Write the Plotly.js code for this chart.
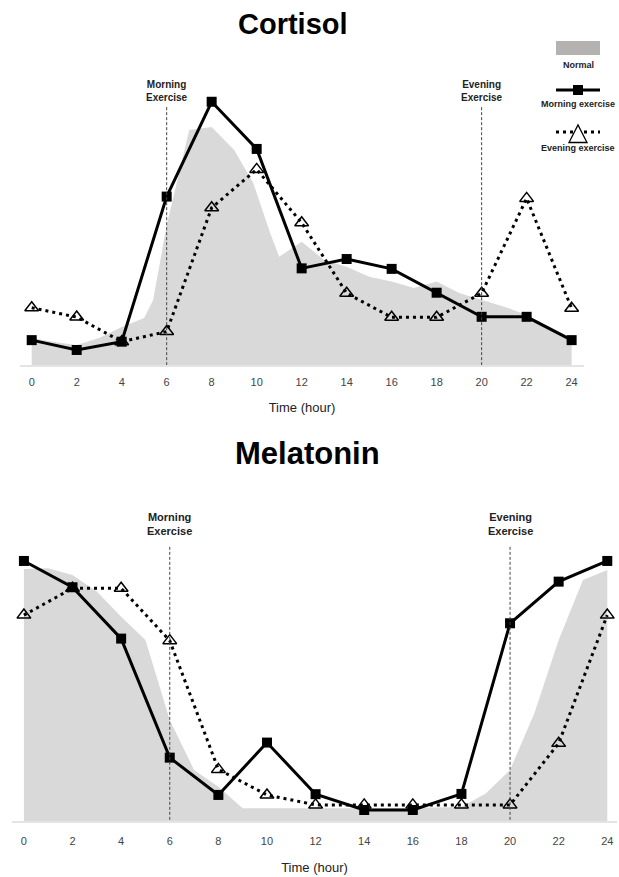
<!DOCTYPE html>
<html><head><meta charset="utf-8">
<script src="https://cdn.plot.ly/plotly-3.0.1.min.js"></script>
<style>html,body{margin:0;padding:0;background:#fff}</style>
</head><body><div id="chart" style="width:619px;height:877px"></div>
<script>
// ---- data ----
const hours = [0, 2, 4, 6, 8, 10, 12, 14, 16, 18, 20, 22, 24];
const tickLabels = ['0', '2', '4', '6', '8', '10', '12', '14', '16', '18', '20', '22', '24'];
const chartTitles = ['Cortisol', 'Melatonin'];
const seriesNames = ['Normal', 'Morning exercise', 'Evening exercise'];
const exerciseHours = [6, 20];
const exerciseLabels = ['Morning<br>Exercise', 'Evening<br>Exercise'];
const axisTitle = 'Time (hour)';

const cortisolMorning = [9.6, 5.8, 9.0, 65.0, 101.6, 83.4, 37.3, 40.9, 37.1, 27.9, 18.6, 18.6, 9.6];
const cortisolEvening = [22.1, 18.5, 9.0, 12.9, 60.7, 75.5, 54.9, 27.7, 18.4, 18.4, 27.7, 64.3, 21.9];
const cortisolNormalHours = [0, 1, 2, 3, 4, 5, 5.4, 6, 6.5, 7, 8, 9, 9.85, 10.6, 11, 12, 13, 14, 15, 16, 17, 18, 19, 20, 21, 22, 23, 24];
const cortisolNormal = [10.4, 8.9, 7.7, 10.4, 14.7, 18.1, 25.1, 54.0, 72.2, 90.7, 91.9, 83.0, 70.2, 50.9, 41.8, 47.6, 40.5, 37.9, 34.1, 32.2, 29.7, 32.2, 27.8, 25.1, 22.5, 19.3, 14.8, 10.4];

const melatoninMorning = [101.8, 91.5, 71.4, 24.8, 10.2, 30.7, 10.5, 4.3, 4.3, 10.6, 77.4, 93.7, 101.8];
const melatoninEvening = [80.6, 91.1, 91.1, 70.6, 20.2, 10.2, 6.3, 6.3, 6.3, 6.3, 6.3, 30.4, 80.6];
const melatoninNormalHours = [0, 1, 2, 3, 4, 5, 6, 7, 8, 9, 12, 15, 18, 19, 20, 21, 22, 23, 24];
const melatoninNormal = [98.6, 98.9, 96.3, 89.8, 80.0, 70.9, 39.5, 20.0, 13.4, 5.0, 5.0, 5.0, 5.5, 10.8, 20.0, 42.2, 70.9, 94.3, 98.3];

// ---- helpers (pixel -> paper) ----
const W = 619, H = 877;
const px = x => x / W;
const py = y => 1 - y / H;
const FONT = 'Arial, "Liberation Sans", sans-serif';

const GRAY = '#d9d9d9';
const evLine = {color: '#000', width: 3, dash: '3px,4px'};
const evMarker = {symbol: 'triangle-up-open', size: 12, color: '#000', line: {width: 1.5, color: '#000'}};
const mnLine = {color: '#000', width: 3};
const mnMarker = {symbol: 'square', size: 10, color: '#000'};

function panel(xa, ya, normalX, normalY, morning, evening) {
  return [
    {x: normalX, y: normalY, xaxis: xa, yaxis: ya, type: 'scatter', mode: 'lines', fill: 'tozeroy',
     fillcolor: GRAY, line: {width: 0, color: GRAY}, name: seriesNames[0], showlegend: false, hoverinfo: 'skip'},
    {x: hours, y: evening, xaxis: xa, yaxis: ya, type: 'scatter', mode: 'lines+markers',
     line: evLine, marker: evMarker, name: seriesNames[2], showlegend: false},
    {x: hours, y: morning, xaxis: xa, yaxis: ya, type: 'scatter', mode: 'lines+markers',
     line: mnLine, marker: mnMarker, name: seriesNames[1], showlegend: false}
  ];
}

const data = [
  ...panel('x', 'y', cortisolNormalHours, cortisolNormal, cortisolMorning, cortisolEvening),
  ...panel('x2', 'y2', melatoninNormalHours, melatoninNormal, melatoninMorning, melatoninEvening)
];

function xAxis(domain, range, anchor, standoffLabels, standoffTitle) {
  return {
    domain: domain, range: range, anchor: anchor,
    tickmode: 'array', tickvals: hours, ticktext: tickLabels,
    showline: true, linecolor: '#e4e4e4', linewidth: 2,
    showgrid: false, zeroline: false, ticks: '',
    ticklabelstandoff: standoffLabels,
    tickfont: {family: FONT, size: 11, color: '#444'},
    title: {text: axisTitle, font: {family: FONT, size: 13, color: '#222'}, standoff: standoffTitle},
    automargin: false, fixedrange: true
  };
}

const shapes = [];
const annotations = [];

// exercise markers (dashed verticals + labels)
exerciseHours.forEach((h, i) => {
  shapes.push({type: 'line', xref: 'x', yref: 'y', x0: h, x1: h, y0: -2, y1: 99.6,
    line: {color: '#444', width: 1, dash: '3px,2px'}, layer: 'above'});
  shapes.push({type: 'line', xref: 'x2', yref: 'y2', x0: h, x1: h, y0: -1.5, y1: 108,
    line: {color: '#444', width: 1, dash: '3px,2px'}, layer: 'above'});
  annotations.push({xref: 'x', yref: 'paper', x: h, y: py(91), text: exerciseLabels[i], showarrow: false,
    xanchor: 'center', yanchor: 'middle', font: {family: FONT, size: 10, color: '#222', weight: 'bold'}});
  annotations.push({xref: 'x2', yref: 'paper', x: h, y: py(524), text: exerciseLabels[i], showarrow: false,
    xanchor: 'center', yanchor: 'middle', font: {family: FONT, size: 11, color: '#222', weight: 'bold'}});
});

// chart titles
annotations.push({xref: 'paper', yref: 'paper', x: px(292.5), y: py(24), text: chartTitles[0], showarrow: false,
  xanchor: 'center', yanchor: 'middle', font: {family: FONT, size: 29, color: '#000', weight: 'bold'}});
annotations.push({xref: 'paper', yref: 'paper', x: px(307), y: py(453), text: chartTitles[1], showarrow: false,
  xanchor: 'center', yanchor: 'middle', font: {family: FONT, size: 31, color: '#000', weight: 'bold'}});

// legend (drawn manually: symbol above label)
shapes.push({type: 'rect', xref: 'paper', yref: 'paper', x0: px(556), x1: px(600), y0: py(55), y1: py(41),
  fillcolor: '#b4b1b1', line: {width: 0}});
shapes.push({type: 'line', xref: 'paper', yref: 'paper', x0: px(556), x1: px(600), y0: py(90), y1: py(90),
  line: {color: '#000', width: 3}});
shapes.push({type: 'rect', xref: 'paper', yref: 'paper', x0: px(573), x1: px(583), y0: py(95), y1: py(85),
  fillcolor: '#000', line: {width: 0}});
shapes.push({type: 'line', xref: 'paper', yref: 'paper', x0: px(556), x1: px(600), y0: py(132), y1: py(132),
  line: {color: '#000', width: 3, dash: '3px,4px'}});
shapes.push({type: 'path', xref: 'paper', yref: 'paper',
  path: `M ${px(569)},${py(142.5)} L ${px(587)},${py(142.5)} L ${px(578)},${py(125)} Z`,
  fillcolor: '#fff', line: {color: '#000', width: 1.3}});
[[seriesNames[0], 65], [seriesNames[1], 104], [seriesNames[2], 148]].forEach(([t, y]) => {
  annotations.push({xref: 'paper', yref: 'paper', x: px(578), y: py(y), text: t, showarrow: false,
    xanchor: 'center', yanchor: 'middle', font: {family: FONT, size: 9, color: '#222', weight: 'bold'}});
});

const layout = {
  width: W, height: H,
  margin: {l: 0, r: 0, t: 0, b: 0},
  paper_bgcolor: '#fff', plot_bgcolor: '#fff',
  showlegend: false,
  xaxis: xAxis([px(20), px(584)], [-0.52, 24.55], 'y', 6, 16),
  yaxis: {domain: [py(365), py(80)], range: [0, 110], visible: false, fixedrange: true},
  xaxis2: xAxis([px(12), px(617)], [-0.49, 24.4], 'y2', 9, 17),
  yaxis2: {domain: [py(821), py(540)], range: [0, 110], visible: false, fixedrange: true},
  shapes: shapes,
  annotations: annotations
};

Plotly.newPlot('chart', data, layout, {staticPlot: true, displayModeBar: false});
</script>
</body></html>
